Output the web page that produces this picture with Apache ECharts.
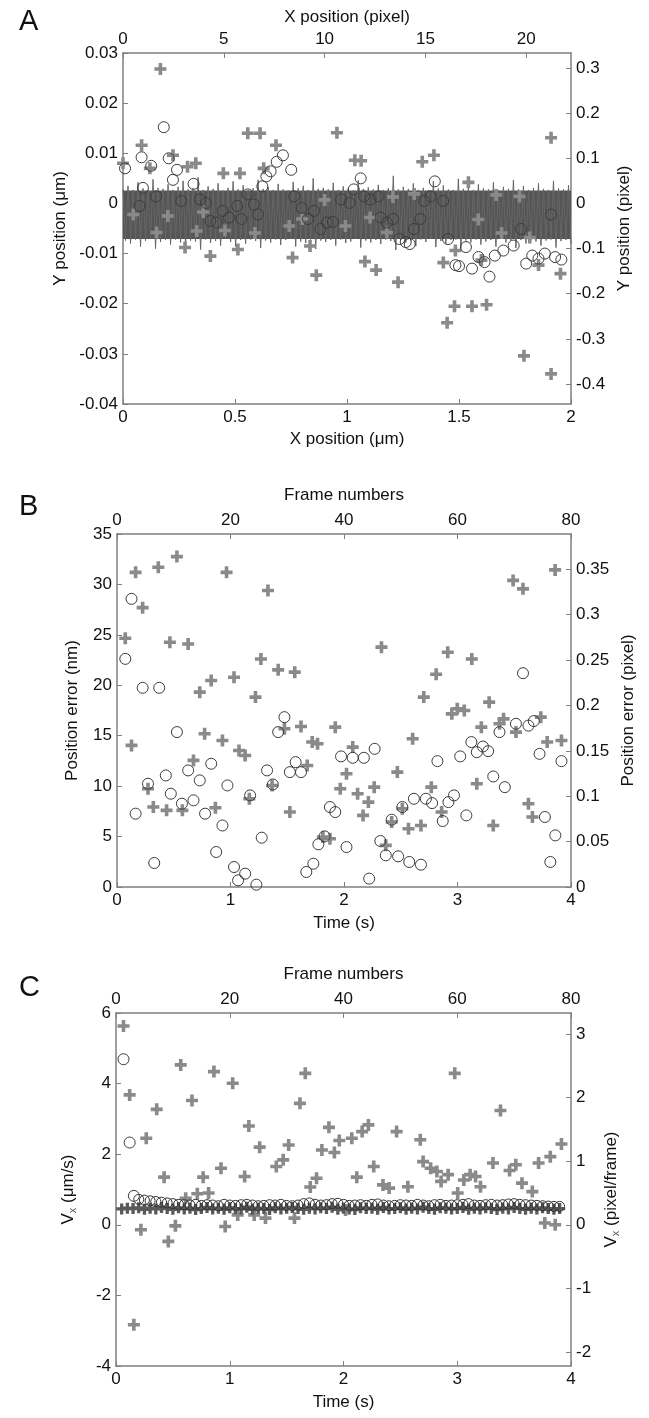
<!DOCTYPE html>
<html><head><meta charset="utf-8">
<script src="https://cdn.jsdelivr.net/npm/echarts@6/dist/echarts.min.js"></script>
<style>html,body{margin:0;padding:0;background:#fff}#c{width:649px;height:1418px}</style>
</head><body><div id="c"></div>
<script>
// ---------- Panel A: Y vs X position (µm) ----------
const aCrosses = [[0.0,0.008],[0.046,-0.0022],[0.083,0.0116],[0.12,0.007],[0.167,0.0268],[0.2,-0.0025],[0.223,0.0096],[0.288,0.0073],[0.325,0.008],[0.15,-0.0058],[0.277,-0.0088],[0.329,-0.0055],[0.358,-0.0017],[0.39,-0.0105],[0.448,0.006],[0.522,0.006],[0.455,-0.0054],[0.513,-0.0092],[0.557,0.014],[0.612,0.014],[0.683,0.0116],[0.628,0.007],[0.589,-0.0059],[0.742,-0.0045],[0.757,-0.0108],[0.863,-0.0143],[0.835,-0.0085],[0.9,0.0007],[0.955,0.0141],[0.993,-0.0045],[1.035,0.0086],[1.063,0.0085],[1.08,-0.0116],[1.13,-0.0133],[1.103,-0.0028],[1.228,-0.0157],[1.178,-0.0058],[1.205,0.0013],[1.336,0.0083],[1.388,0.0096],[1.3,0.0019],[1.43,-0.0118],[1.447,-0.0238],[1.48,-0.0205],[1.484,-0.0094],[1.558,-0.0205],[1.623,-0.0202],[1.542,0.0042],[1.586,-0.0032],[1.6,-0.0113],[1.666,0.0017],[1.69,-0.0059],[1.77,0.0014],[1.79,-0.0304],[1.816,-0.0068],[1.855,-0.0123],[1.911,0.0131],[1.911,-0.034],[1.953,-0.014],[0.80,-0.0031]];
const aCircles = [[0.009,0.007],[0.083,0.0092],[0.126,0.0075],[0.182,0.0152],[0.204,0.009],[0.223,0.0047],[0.241,0.0067],[0.089,0.0031],[0.074,-0.0005],[0.148,0.0014],[0.26,0.0005],[0.315,0.0039],[0.343,0.0008],[0.371,0.0001],[0.39,-0.0035],[0.417,-0.0038],[0.445,-0.0015],[0.473,-0.0028],[0.51,-0.0005],[0.529,-0.0031],[0.557,0.0018],[0.584,-0.0002],[0.603,-0.0022],[0.622,0.0034],[0.64,0.0054],[0.659,0.0064],[0.686,0.0083],[0.714,0.0096],[0.751,0.0067],[0.764,0.0014],[0.798,-0.0009],[0.826,-0.0031],[0.853,-0.0015],[0.881,-0.0051],[0.91,-0.0038],[0.937,-0.0037],[0.974,0.0008],[1.011,0.0001],[1.03,0.0028],[1.061,0.005],[1.076,0.0014],[1.104,0.0008],[1.141,0.0014],[1.15,-0.0028],[1.178,-0.0038],[1.206,-0.0031],[1.234,-0.0071],[1.262,-0.0077],[1.28,-0.0081],[1.299,-0.0051],[1.327,-0.0031],[1.345,0.0005],[1.373,0.0014],[1.392,0.0044],[1.429,0.0005],[1.451,-0.0071],[1.484,-0.0123],[1.5,-0.0125],[1.531,-0.0087],[1.558,-0.013],[1.587,-0.0107],[1.614,-0.0117],[1.636,-0.0146],[1.66,-0.0104],[1.698,-0.0094],[1.744,-0.0084],[1.777,-0.0051],[1.8,-0.012],[1.827,-0.0104],[1.855,-0.011],[1.883,-0.01],[1.911,-0.0022],[1.929,-0.0107],[1.957,-0.0112]];
const aNoiseHigh = [0.0028,0.0035,0.0027,0.0042,0.0030,0.0026,0.0048,0.0031,0.0029,0.0038,0.0027,0.0033,0.0045,0.0028,0.0030,0.0052,0.0027,0.0034,0.0029,0.0040,0.0026,0.0031,0.0044,0.0028,0.0036,0.0027,0.0030,0.0047,0.0029,0.0033,0.0027,0.0039,0.0028,0.0026,0.0043,0.0030,0.0035,0.0027,0.0050,0.0029,0.0031,0.0028,0.0041,0.0027,0.0034,0.0030,0.0026,0.0046,0.0029,0.0032,0.0028,0.0037,0.0027,0.0030,0.0055,0.0028,0.0033,0.0029,0.0040,0.0027,0.0031,0.0026,0.0044,0.0030,0.0036,0.0028,0.0027,0.0049,0.0029,0.0032,0.0027,0.0038,0.0030,0.0028,0.0042,0.0026,0.0033,0.0029,0.0047,0.0028,0.0035,0.0027,0.0031,0.0040,0.0029,0.0027,0.0045,0.0030,0.0028,0.0036];
const aNoiseLow = [-0.0074,-0.0080,-0.0072,-0.0086,-0.0075,-0.0071,-0.0090,-0.0077,-0.0073,-0.0082,-0.0072,-0.0078,-0.0088,-0.0074,-0.0076,-0.0092,-0.0072,-0.0079,-0.0075,-0.0084,-0.0071,-0.0077,-0.0087,-0.0073,-0.0080,-0.0072,-0.0075,-0.0089,-0.0074,-0.0078,-0.0072,-0.0083,-0.0073,-0.0071,-0.0086,-0.0076,-0.0079,-0.0072,-0.0091,-0.0074,-0.0077,-0.0073,-0.0084,-0.0072,-0.0079,-0.0076,-0.0071,-0.0088,-0.0074,-0.0078,-0.0073,-0.0081,-0.0072,-0.0075,-0.0093,-0.0073,-0.0078,-0.0074,-0.0085,-0.0072,-0.0077,-0.0071,-0.0087,-0.0075,-0.0080,-0.0073,-0.0072,-0.0090,-0.0074,-0.0078,-0.0072,-0.0082,-0.0076,-0.0073,-0.0086,-0.0071,-0.0078,-0.0074,-0.0089,-0.0073,-0.0080,-0.0072,-0.0076,-0.0084,-0.0074,-0.0072,-0.0088,-0.0075,-0.0073,-0.0081];
const aBand = [0.0026, -0.0071];
const aLeftTicks = [-0.04,-0.03,-0.02,-0.01,0,0.01,0.02,0.03];
const aRightTicks = [-0.4,-0.3,-0.2,-0.1,0,0.1,0.2,0.3];
const aBottomTicks = [0,0.5,1,1.5,2];
const aTopTicks = [0,5,10,15,20];

// ---------- Panel B: position error (nm) vs time (s) ----------
const bCrosses = [[0.073,24.67],[0.128,14.04],[0.164,31.2],[0.226,27.7],[0.273,9.74],[0.32,7.93],[0.364,31.7],[0.437,7.6],[0.466,24.27],[0.528,32.76],[0.576,7.6],[0.627,24.1],[0.674,12.55],[0.729,19.32],[0.772,15.19],[0.83,20.48],[0.867,7.86],[0.929,14.53],[0.965,31.2],[1.031,20.8],[1.075,13.54],[1.129,13.04],[1.166,8.75],[1.22,18.83],[1.268,22.6],[1.33,29.4],[1.366,10.07],[1.42,21.53],[1.475,15.69],[1.523,7.43],[1.566,21.3],[1.621,15.92],[1.676,12.05],[1.72,14.37],[1.767,14.2],[1.814,4.95],[1.876,4.79],[1.923,15.85],[1.967,9.74],[2.022,11.23],[2.077,13.87],[2.12,9.25],[2.168,7.1],[2.215,8.42],[2.266,9.9],[2.33,23.78],[2.368,4.13],[2.42,6.44],[2.47,11.39],[2.514,7.76],[2.568,5.78],[2.605,14.7],[2.678,6.1],[2.703,18.83],[2.769,9.9],[2.812,21.1],[2.86,7.43],[2.914,23.28],[2.95,17.17],[2.998,17.67],[3.06,17.5],[3.126,22.6],[3.17,10.24],[3.21,15.85],[3.279,18.33],[3.315,6.1],[3.37,16.18],[3.406,16.67],[3.49,30.4],[3.515,15.36],[3.577,29.56],[3.625,8.26],[3.66,6.94],[3.734,16.84],[3.79,14.37],[3.86,31.44],[3.916,14.53]];
const bCircles = [[0.073,22.62],[0.128,28.57],[0.164,7.27],[0.226,19.75],[0.273,10.24],[0.328,2.38],[0.372,19.75],[0.43,11.06],[0.474,9.25],[0.528,15.36],[0.572,8.26],[0.627,11.56],[0.674,8.59],[0.729,10.57],[0.776,7.27],[0.83,12.22],[0.874,3.47],[0.929,6.1],[0.973,10.07],[1.031,1.98],[1.067,0.66],[1.129,1.32],[1.173,9.08],[1.228,0.23],[1.275,4.89],[1.322,11.56],[1.373,10.17],[1.42,15.36],[1.475,16.84],[1.523,11.39],[1.574,12.38],[1.621,11.39],[1.668,1.49],[1.73,2.31],[1.774,4.23],[1.829,5.02],[1.876,7.93],[1.923,7.43],[1.974,12.95],[2.022,3.96],[2.077,12.81],[2.175,12.81],[2.222,0.83],[2.27,13.7],[2.32,4.56],[2.368,3.14],[2.42,6.67],[2.477,3.04],[2.514,7.93],[2.575,2.48],[2.616,8.75],[2.678,2.21],[2.721,8.75],[2.776,8.32],[2.823,12.48],[2.87,6.54],[2.92,8.42],[2.969,9.08],[3.024,12.95],[3.078,7.1],[3.122,14.37],[3.17,13.37],[3.224,13.93],[3.27,13.47],[3.315,10.96],[3.37,15.36],[3.417,9.9],[3.515,16.18],[3.577,21.2],[3.625,16.0],[3.672,16.45],[3.723,13.2],[3.77,6.94],[3.818,2.48],[3.862,5.12],[3.916,12.48]];
const bLeftTicks = [0,5,10,15,20,25,30,35];
const bRightTicks = [0,0.05,0.1,0.15,0.2,0.25,0.3,0.35];
const timeTicks = [0,1,2,3,4];
const frameTicks = [0,20,40,60,80];

// ---------- Panel C: Vx (µm/s) vs time (s) ----------
const cCrosses = [[0.066,5.63],[0.12,3.68],[0.157,-2.83],[0.219,-0.14],[0.266,2.45],[0.358,3.27],[0.423,1.35],[0.46,-0.47],[0.522,-0.03],[0.569,4.53],[0.613,0.75],[0.668,3.52],[0.715,0.88],[0.766,1.35],[0.814,0.9],[0.861,4.34],[0.923,1.6],[0.96,-0.05],[1.026,4.01],[1.07,0.28],[1.131,1.37],[1.168,2.8],[1.215,0.28],[1.263,2.2],[1.314,0.19],[1.409,1.65],[1.47,1.84],[1.518,2.26],[1.569,0.19],[1.617,3.44],[1.664,4.29],[1.708,1.07],[1.763,1.32],[1.81,2.12],[1.872,2.76],[1.92,2.05],[1.963,2.39],[2.018,0.42],[2.073,2.45],[2.117,1.35],[2.164,2.64],[2.219,2.83],[2.266,1.65],[2.347,1.13],[2.401,1.04],[2.467,2.64],[2.566,1.08],[2.675,2.41],[2.7,1.79],[2.766,1.6],[2.821,1.51],[2.858,1.23],[2.92,1.42],[2.978,4.29],[3.004,0.9],[3.058,1.27],[3.113,1.42],[3.161,1.37],[3.204,1.08],[3.314,1.75],[3.38,3.24],[3.46,1.54],[3.515,1.7],[3.569,1.18],[3.66,0.94],[3.715,1.75],[3.77,0.05],[3.818,1.93],[3.861,0.0],[3.916,2.29]];
const cCircles = [[0.066,4.69],[0.12,2.33],[0.157,0.82]];
const cBandCircles = [0.72,0.70,0.68,0.66,0.64,0.62,0.60,0.58,0.57,0.56,0.58,0.55,0.57,0.56,0.54,0.58,0.56,0.55,0.57,0.58,0.56,0.54,0.55,0.57,0.56,0.58,0.55,0.54,0.56,0.60,0.62,0.58,0.56,0.57,0.60,0.61,0.58,0.55,0.56,0.57,0.55,0.58,0.59,0.56,0.54,0.55,0.57,0.56,0.55,0.58,0.56,0.54,0.57,0.58,0.55,0.56,0.57,0.58,0.60,0.56,0.55,0.57,0.58,0.56,0.57,0.59,0.60,0.58,0.57,0.56,0.55,0.54,0.53,0.52,0.52];
const cBandCircleFirstFrame = 4;
const cBandCrosses = [0.45,0.47,0.46,0.48,0.44,0.47,0.45,0.49,0.46,0.44,0.48,0.45,0.47,0.43,0.46,0.49,0.45,0.47,0.44,0.48,0.46,0.45,0.50,0.44,0.47,0.46,0.43,0.48,0.45,0.47,0.49,0.46,0.44,0.47,0.45,0.48,0.46,0.50,0.44,0.47,0.45,0.43,0.48,0.46,0.47,0.44,0.49,0.45,0.46,0.48,0.44,0.47,0.45,0.50,0.46,0.44,0.48,0.47,0.45,0.46,0.49,0.44,0.47,0.45,0.48,0.46,0.43,0.47,0.45,0.49,0.46,0.44,0.47,0.45,0.48,0.46,0.44,0.46];
const cBandCrossFirstFrame = 1;
const cLeftTicks = [-4,-2,0,2,4,6];
const cRightTicks = [-2,-1,0,1,2,3];

// ---------- unit conversions from the figure ----------
const UM_PER_PIXEL = 0.09, NM_PER_PIXEL = 90, FPS = 20;

const FONT = "'Liberation Sans', Arial, Helvetica, sans-serif";
const AX = '#7f7f7f';
const PLUS = 'path://M3.5,0H6.5V3.5H10V6.5H6.5V10H3.5V6.5H0V3.5H3.5Z';
const fmt = v => String(+(+v).toFixed(4));

function axis(o) {
  return Object.assign({
    type: 'value', scale: false,
    axisLine: { show: true, onZero: false, lineStyle: { color: AX, width: 1.5 } },
    axisTick: { show: true, inside: true, length: 5, customValues: o.ticks, lineStyle: { color: AX, width: 1 } },
    axisLabel: { show: true, customValues: o.ticks, formatter: fmt, color: '#111', fontSize: 17, fontFamily: FONT, margin: 5 },
    splitLine: { show: false },
    nameLocation: 'middle',
    nameTextStyle: { color: '#111', fontSize: 17, fontFamily: FONT,
      rich: { s: { fontSize: 11, color: '#555', fontFamily: FONT, padding: [8, 0, 0, 0] } } }
  }, o.cfg);
}

const xAxes = [
  axis({ ticks: aBottomTicks, cfg: { gridIndex: 0, position: 'bottom', min: 0, max: 2, name: 'X position (μm)', nameGap: 27 } }),
  axis({ ticks: aTopTicks, cfg: { gridIndex: 0, position: 'top', min: 0, max: 2 / UM_PER_PIXEL, name: 'X position (pixel)', nameGap: 27 } }),
  axis({ ticks: timeTicks, cfg: { gridIndex: 1, position: 'bottom', min: 0, max: 4, name: 'Time (s)', nameGap: 28 } }),
  axis({ ticks: frameTicks, cfg: { gridIndex: 1, position: 'top', min: 0, max: 4 * FPS, name: 'Frame numbers', nameGap: 30 } }),
  axis({ ticks: timeTicks, cfg: { gridIndex: 2, position: 'bottom', min: 0, max: 4, name: 'Time (s)', nameGap: 28 } }),
  axis({ ticks: frameTicks, cfg: { gridIndex: 2, position: 'top', min: 0, max: 4 * FPS, name: 'Frame numbers', nameGap: 30 } })
];
const yAxes = [
  axis({ ticks: aLeftTicks, cfg: { gridIndex: 0, position: 'left', min: -0.04, max: 0.03, name: 'Y position (μm)', nameGap: 53 } }),
  axis({ ticks: aRightTicks, cfg: { gridIndex: 0, position: 'right', min: -0.04 / UM_PER_PIXEL, max: 0.03 / UM_PER_PIXEL, name: 'Y position (pixel)', nameGap: 42 } }),
  axis({ ticks: bLeftTicks, cfg: { gridIndex: 1, position: 'left', min: 0, max: 35, name: 'Position error (nm)', nameGap: 36 } }),
  axis({ ticks: bRightTicks, cfg: { gridIndex: 1, position: 'right', min: 0, max: 35 / NM_PER_PIXEL, name: 'Position error (pixel)', nameGap: 49 } }),
  axis({ ticks: cLeftTicks, cfg: { gridIndex: 2, position: 'left', min: -4, max: 6, name: 'V{s|x} (μm/s)', nameGap: 38 } }),
  axis({ ticks: cRightTicks, cfg: { gridIndex: 2, position: 'right', min: -4 / (UM_PER_PIXEL * FPS), max: 6 / (UM_PER_PIXEL * FPS), name: 'V{s|x} (pixel/frame)', nameGap: 31 } })
];

const noise = [];
const nN = aNoiseHigh.length * 2;
for (let i = 0; i < aNoiseHigh.length; i++) {
  noise.push([(2 * i) * 2 / (nN - 1), aNoiseHigh[i]]);
  noise.push([(2 * i + 1) * 2 / (nN - 1), aNoiseLow[i]]);
}
const cBandC = cBandCircles.map((v, i) => [(cBandCircleFirstFrame + i) / FPS, v]);
const cBandX = cBandCrosses.map((v, i) => [(cBandCrossFirstFrame + i) / FPS, v]);

const crossStyle = (xi, yi, data, color, size) => ({
  type: 'scatter', xAxisIndex: xi, yAxisIndex: yi, data, symbol: PLUS, symbolSize: size || 12,
  itemStyle: { color: color || '#8a8a8a', opacity: 1 }, z: 3, silent: true
});
const circleStyle = (xi, yi, data, size, color) => ({
  type: 'scatter', xAxisIndex: xi, yAxisIndex: yi, data, symbol: 'circle', symbolSize: size || 11,
  itemStyle: { color: 'rgba(0,0,0,0)', borderColor: color || '#3c3c3c', borderWidth: 1, opacity: 1 }, z: 4, silent: true
});

const chart = echarts.init(document.getElementById('c'), null, { renderer: 'canvas' });
chart.setOption({
  animation: false,
  backgroundColor: '#fff',
  title: [
    { text: 'A', left: 14, top: 2, textStyle: { fontSize: 29, fontWeight: 'normal', fontFamily: FONT, color: '#111' } },
    { text: 'B', left: 14, top: 487, textStyle: { fontSize: 29, fontWeight: 'normal', fontFamily: FONT, color: '#111' } },
    { text: 'C', left: 14, top: 968, textStyle: { fontSize: 29, fontWeight: 'normal', fontFamily: FONT, color: '#111' } }
  ],
  grid: [
    { left: 123, top: 53, width: 448, height: 351 },
    { left: 117, top: 534, width: 454, height: 353 },
    { left: 116, top: 1013, width: 455, height: 353 }
  ],
  xAxis: xAxes,
  yAxis: yAxes,
  series: [
    { type: 'line', xAxisIndex: 0, yAxisIndex: 0, data: noise, symbol: 'none', silent: true, z: 1,
      lineStyle: { color: '#666666', width: 1 },
      markArea: { silent: true, itemStyle: { color: '#555555' },
        data: [[{ xAxis: 0, yAxis: aBand[0] }, { xAxis: 2, yAxis: aBand[1] }]] } },
    crossStyle(0, 0, aCrosses),
    circleStyle(0, 0, aCircles, 11),
    crossStyle(2, 2, bCrosses),
    circleStyle(2, 2, bCircles, 11),
    crossStyle(4, 4, cCrosses),
    crossStyle(4, 4, cBandX, '#5a5a5a', 11),
    circleStyle(4, 4, cCircles, 11),
    circleStyle(4, 4, cBandC, 10, '#333333')
  ]
});
</script></body></html>
